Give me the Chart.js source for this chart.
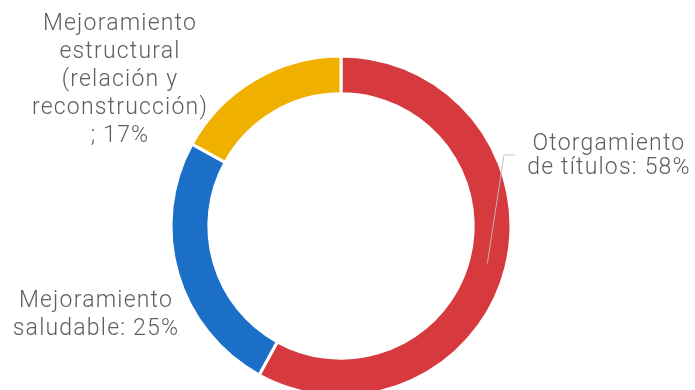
<!DOCTYPE html>
<html lang="es">
<head>
<meta charset="utf-8">
<script src="https://cdn.jsdelivr.net/npm/chart.js@4.4.1/dist/chart.umd.min.js"></script>
<style>
  html, body { margin: 0; padding: 0; background: #fff; overflow: hidden; }
  #wrap { position: relative; width: 695px; height: 410px; }
</style>
</head>
<body>
<div id="wrap"><canvas id="programChart"></canvas></div>
<script>
// Distribution of the housing programme by component
const categories = [
  "Otorgamiento de títulos",
  "Mejoramiento saludable",
  "Mejoramiento estructural (relación y reconstrucción)"
]
const shares = [58, 25, 17]
const sliceColors = ["#d73a3e", "#1b6fc7", "#f0b000"]

// Text lines shown beside each slice
const labelLines = [
  ["Otorgamiento", "de títulos: 58%"],
  ["Mejoramiento", "saludable: 25%"],
  ["Mejoramiento", "estructural", "(relación y", "reconstrucción)", "; 17%"]
]

// Label block centres, and line height
const labelBoxes = [
  { x: 609, y: 156, lineHeight: 24 },
  { x: 96, y: 315, lineHeight: 28 },
  { x: 120, y: 80, lineHeight: 28 }
]

const sliceLabels = {
  id: "sliceLabels",
  afterDatasetsDraw(chart) {
    const ctx = chart.ctx
    const arcs = chart.getDatasetMeta(0).data

    // leader line for the large slice
    const arc = arcs[0]
    const mid = (arc.startAngle + arc.endAngle) / 2
    const r = (arc.innerRadius + arc.outerRadius) / 2
    const sx = arc.x + Math.cos(mid) * r
    const sy = arc.y + Math.sin(mid) * r
    const box = labelBoxes[0]
    const ex = box.x - 105
    const ey = box.y - 1
    ctx.save()
    ctx.strokeStyle = "rgba(190,190,190,0.9)"
    ctx.lineWidth = 1
    ctx.beginPath()
    ctx.moveTo(sx, sy)
    ctx.lineTo(ex, ey)
    ctx.lineTo(ex + 11, ey)
    ctx.stroke()
    ctx.restore()

    ctx.save()
    ctx.fillStyle = "#5e5e5e"
    ctx.font = "300 23px Roboto, 'Noto Sans', sans-serif"
    ctx.letterSpacing = "1.2px"
    ctx.textAlign = "center"
    ctx.textBaseline = "middle"
    labelLines.forEach((lines, i) => {
      const b = labelBoxes[i]
      const top = b.y - (lines.length - 1) * b.lineHeight / 2
      lines.forEach((line, j) => {
        ctx.fillText(line, b.x, top + j * b.lineHeight)
      })
    })
    ctx.restore()
  }
}

new Chart(document.getElementById("programChart"), {
  type: "doughnut",
  data: {
    labels: categories,
    datasets: [
      {
        data: shares,
        backgroundColor: sliceColors,
        borderColor: "#ffffff",
        borderWidth: 3,
        radius: 170,
        cutout: 131,
      },
    ],
  },
  options: {
    responsive: true,
    maintainAspectRatio: false,
    animation: false,
    layout: {
      padding: { top: 56, bottom: 14, left: 0, right: 13 },
    },
    plugins: {
      legend: { display: false },
      tooltip: { enabled: false },
    },
  },
  plugins: [sliceLabels],
})
</script>
</body>
</html>
